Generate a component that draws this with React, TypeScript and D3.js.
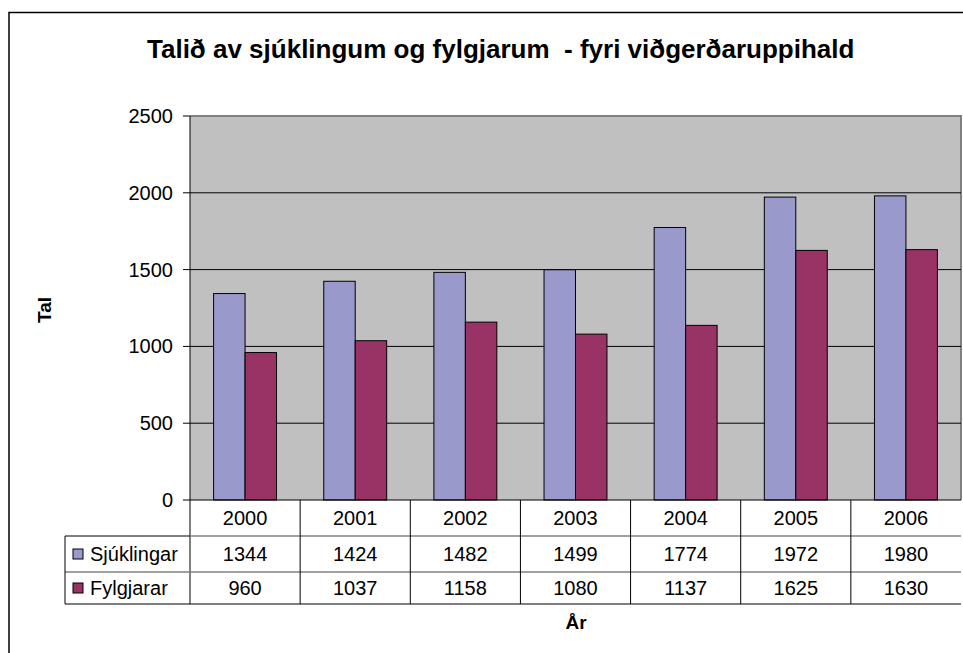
import React from "react";
import * as d3 from "d3";

const years = ["2000", "2001", "2002", "2003", "2004", "2005", "2006"];
const seriesNames = ["Sjúklingar", "Fylgjarar"];
const sjuklingar = [1344, 1424, 1482, 1499, 1774, 1972, 1980];
const fylgjarar = [960, 1037, 1158, 1080, 1137, 1625, 1630];
const yTicks = [0, 500, 1000, 1500, 2000, 2500];
const colors = ["#9999cc", "#993366"];

const W = 963;
const H = 653;
const plot = { left: 190, right: 961, top: 116, bottom: 500 };
const rows = [500, 536, 572, 604];
const legendLeft = 65;
const font = "Arial, 'Liberation Sans', sans-serif";

export default function App() {
  const series = [sjuklingar, fylgjarar];

  const x0 = d3.scaleBand().domain(years).range([plot.left, plot.right]);
  const x1 = d3
    .scaleBand()
    .domain(seriesNames)
    .range([0, x0.bandwidth()])
    .paddingInner(0)
    .paddingOuter(0.75);
  const y = d3.scaleLinear().domain([0, 2500]).range([plot.bottom, plot.top]);

  return (
    <svg
      width={W}
      height={H}
      style={{ position: "absolute", left: 0, top: 0, background: "#fff" }}
      fontFamily={font}
    >
      {/* chart area border, clipped at right and bottom */}
      <rect x={9} y={12.5} width={W + 20} height={H + 20} fill="#fff" stroke="#000" strokeWidth={1.5} />

      <text
        x={147}
        y={58}
        fontSize={26}
        fontWeight="bold"
        style={{ whiteSpace: "pre" }}
      >
        {"Talið av sjúklingum og fylgjarum  - fyri viðgerðaruppihald"}
      </text>

      {/* plot area */}
      <rect
        x={plot.left}
        y={plot.top}
        width={plot.right - plot.left}
        height={plot.bottom - plot.top}
        fill="#c0c0c0"
      />
      <path
        d={`M${plot.left},${plot.top}H${plot.right}V${plot.bottom}`}
        fill="none"
        stroke="#808080"
        strokeWidth={2}
      />
      {yTicks.slice(1, -1).map((t) => (
        <line key={t} x1={plot.left} x2={plot.right} y1={y(t)} y2={y(t)} stroke="#000" />
      ))}

      {/* bars */}
      {years.map((yr, i) => (
        <g key={yr} transform={`translate(${x0(yr)},0)`}>
          {seriesNames.map((s, j) => (
            <rect
              key={s}
              x={x1(s)}
              y={y(series[j][i])}
              width={x1.bandwidth()}
              height={y(0) - y(series[j][i])}
              fill={colors[j]}
              stroke="#000"
              strokeWidth={1}
            />
          ))}
        </g>
      ))}

      {/* y axis */}
      <line x1={plot.left} x2={plot.left} y1={plot.top} y2={rows[3]} stroke="#000" />
      {yTicks.map((t) => (
        <g key={t}>
          <line x1={plot.left - 7} x2={plot.left} y1={y(t)} y2={y(t)} stroke="#000" />
          <text x={173} y={y(t) + 7} textAnchor="end" fontSize={20}>
            {t}
          </text>
        </g>
      ))}
      <text
        transform={`translate(51,310) rotate(-90)`}
        textAnchor="middle"
        fontSize={19}
        fontWeight="bold"
      >
        Tal
      </text>

      {/* data table */}
      <line x1={plot.left} x2={plot.right} y1={rows[0]} y2={rows[0]} stroke="#000" />
      <line x1={legendLeft} x2={plot.left} y1={rows[1]} y2={rows[1]} stroke="#000" />
      <line x1={plot.left} x2={plot.right} y1={rows[1]} y2={rows[1]} stroke="#808080" strokeWidth={1.5} />
      <line x1={legendLeft} x2={plot.right} y1={rows[2]} y2={rows[2]} stroke="#808080" strokeWidth={1.5} />
      <line x1={legendLeft} x2={plot.right} y1={rows[3]} y2={rows[3]} stroke="#000" />
      <line x1={legendLeft} x2={legendLeft} y1={rows[1]} y2={rows[3]} stroke="#000" />
      {years.slice(1).map((yr) => (
        <line key={yr} x1={x0(yr)} x2={x0(yr)} y1={rows[0]} y2={rows[3]} stroke="#000" />
      ))}
      {years.map((yr, i) => {
        const cx = (x0(yr) as number) + x0.bandwidth() / 2;
        return (
          <g key={yr} fontSize={20} textAnchor="middle">
            <text x={cx} y={(rows[0] + rows[1]) / 2 + 7}>{yr}</text>
            <text x={cx} y={(rows[1] + rows[2]) / 2 + 7}>{sjuklingar[i]}</text>
            <text x={cx} y={(rows[2] + rows[3]) / 2 + 7}>{fylgjarar[i]}</text>
          </g>
        );
      })}
      {seriesNames.map((s, j) => {
        const cy = (rows[j + 1] + rows[j + 2]) / 2;
        return (
          <g key={s}>
            <rect x={73} y={cy - 5} width={10} height={10} fill={colors[j]} stroke="#000" />
            <text x={90} y={cy + 7} fontSize={20}>{s}</text>
          </g>
        );
      })}

      <text x={576} y={629} textAnchor="middle" fontSize={19} fontWeight="bold">
        År
      </text>
    </svg>
  );
}
